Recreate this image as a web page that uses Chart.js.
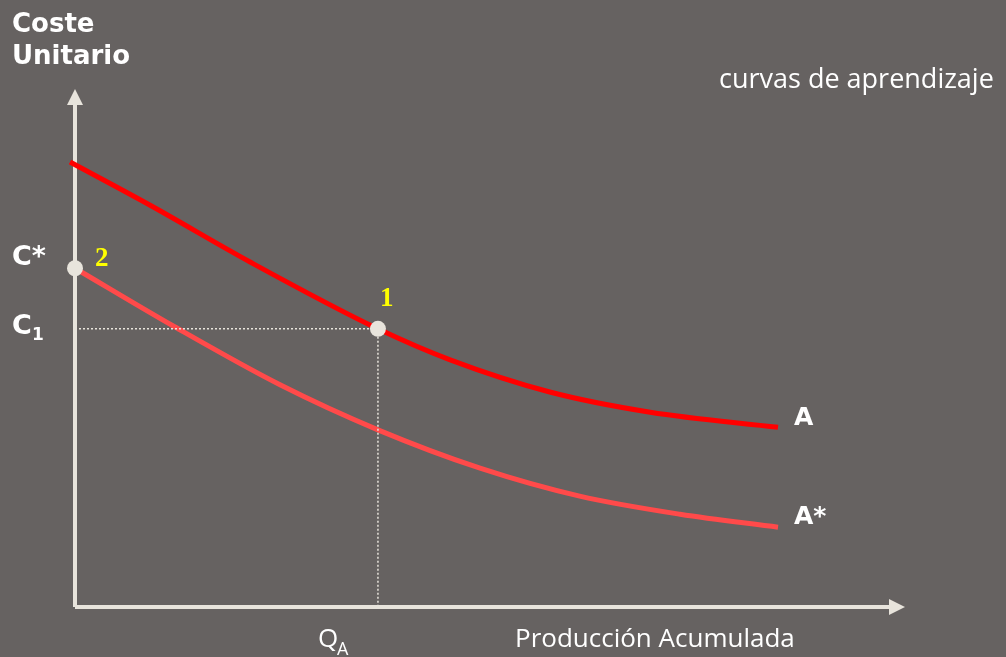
<!DOCTYPE html>
<html>
<head>
<meta charset="utf-8">
<script src="https://cdn.jsdelivr.net/npm/chart.js@4/dist/chart.umd.min.js"></script>
<style>
  html, body { margin: 0; padding: 0; background: #666261; }
  #wrap { width: 1006px; height: 657px; position: relative; }
</style>
</head>
<body>
<div id="wrap"><canvas id="chart" width="1006" height="657"></canvas></div>
<script>
// --- datos (x: producción acumulada 0..100, y: coste unitario 0..100) ---
const curveAx = [-0.6, 9.0, 21.1, 36.5, 45.2, 57.2, 69.3, 84.7];
const curveAy = [85.9, 77.6, 66.6, 53.7, 47.7, 41.5, 37.6, 34.7];
const curveBx = [0, 12.0, 24.7, 36.5, 48.8, 60.8, 72.9, 84.7];
const curveBy = [65.4, 54.1, 42.9, 34.2, 26.8, 21.4, 17.9, 15.4];
const pointX = [36.5, 0];      // punto 1, punto 2
const pointY = [53.7, 65.4];
const pointLabels = ["1", "2"];
const qA = 36.5, c1 = 53.7, cStar = 65.4;

const toXY = (xs, ys) => xs.map((x, i) => ({ x, y: ys[i] }));

const AXIS = "#e8e4dc";

// --- ejes con flechas y textos ---
const overlay = {
  id: "overlay",
  beforeDatasetsDraw(chart) {
    const { ctx, chartArea: a, scales: { x, y } } = chart;
    const x0 = x.getPixelForValue(0), y0 = y.getPixelForValue(0);
    ctx.save();
    ctx.strokeStyle = AXIS; ctx.fillStyle = AXIS; ctx.lineWidth = 4;
    ctx.beginPath();
    ctx.moveTo(x0, y0); ctx.lineTo(x0, a.top + 14);
    ctx.moveTo(x0, y0); ctx.lineTo(a.right - 14, y0);
    ctx.stroke();
    ctx.beginPath();
    ctx.moveTo(x0, a.top); ctx.lineTo(x0 - 8, a.top + 16); ctx.lineTo(x0 + 8, a.top + 16);
    ctx.closePath(); ctx.fill();
    ctx.beginPath();
    ctx.moveTo(a.right, y0); ctx.lineTo(a.right - 16, y0 - 8); ctx.lineTo(a.right - 16, y0 + 8);
    ctx.closePath(); ctx.fill();
    ctx.restore();
  },
  afterDatasetsDraw(chart) {
    const { ctx, scales: { x, y } } = chart;
    ctx.save();
    ctx.fillStyle = "#ffffff";
    ctx.textBaseline = "alphabetic";
    ctx.font = "bold 26px 'DejaVu Sans'";
    ctx.fillText("Coste", 12, 32);
    ctx.fillText("Unitario", 12, 64);

    ctx.font = "bold 27px 'DejaVu Sans'";
    ctx.fillText("C*", 12, y.getPixelForValue(cStar) - 3);
    const yc1 = y.getPixelForValue(c1);
    ctx.fillText("C", 12, yc1 + 5);
    ctx.font = "bold 17px 'DejaVu Sans'";
    ctx.fillText("1", 32, yc1 + 11);

    ctx.font = "bold 25px 'DejaVu Sans'";
    const xEnd = x.getPixelForValue(curveAx[curveAx.length - 1]);
    ctx.fillText("A", xEnd + 16, y.getPixelForValue(curveAy[curveAy.length - 1]) - 2);
    ctx.fillText("A*", xEnd + 16, y.getPixelForValue(curveBy[curveBy.length - 1]) - 3);

    ctx.font = "27px 'Open Sans'";
    ctx.fillText("curvas de aprendizaje", 719, 88);
    ctx.font = "26px 'Open Sans'";
    ctx.fillText("Producción Acumulada", 515, 647);
    ctx.fillText("Q", 318, 647);
    ctx.font = "18px 'Open Sans'";
    ctx.fillText("A", 337, 655);

    ctx.fillStyle = "#ffff00";
    ctx.font = "bold 27px 'Liberation Serif'";
    ctx.fillText(pointLabels[0], x.getPixelForValue(pointX[0]) + 2, y.getPixelForValue(pointY[0]) - 23);
    ctx.fillText(pointLabels[1], x.getPixelForValue(pointX[1]) + 20, y.getPixelForValue(pointY[1]) - 2);
    ctx.restore();
  }
};

new Chart(document.getElementById("chart"), {
  type: "line",
  data: {
    datasets: [
      { data: toXY(pointX, pointY), showLine: false, pointRadius: 8,
        pointBackgroundColor: "#e8e4dc", pointBorderColor: "#e8e4dc", pointBorderWidth: 0 },
      { data: toXY([0, qA], [c1, c1]), borderColor: "#e8e4dc", borderWidth: 1.5,
        borderDash: [2, 2], pointRadius: 0 },
      { data: toXY([qA, qA], [c1, 0]), borderColor: "#e8e4dc", borderWidth: 1.5,
        borderDash: [2, 2], pointRadius: 0 },
      { data: toXY(curveAx, curveAy), borderColor: "#ff0000", borderWidth: 5,
        pointRadius: 0, cubicInterpolationMode: "monotone" },
      { data: toXY(curveBx, curveBy), borderColor: "#ff4a4a", borderWidth: 5,
        pointRadius: 0, cubicInterpolationMode: "monotone" },
    ].map(d => ({ ...d, clip: false })),
  },
  options: {
    responsive: false,
    animation: false,
    layout: { padding: { left: 75, right: 101, top: 89, bottom: 50 } },
    plugins: { legend: { display: false }, tooltip: { enabled: false } },
    scales: {
      x: { type: "linear", min: 0, max: 100, display: false },
      y: { type: "linear", min: 0, max: 100, display: false },
    },
  },
  plugins: [overlay],
});
</script>
</body>
</html>
